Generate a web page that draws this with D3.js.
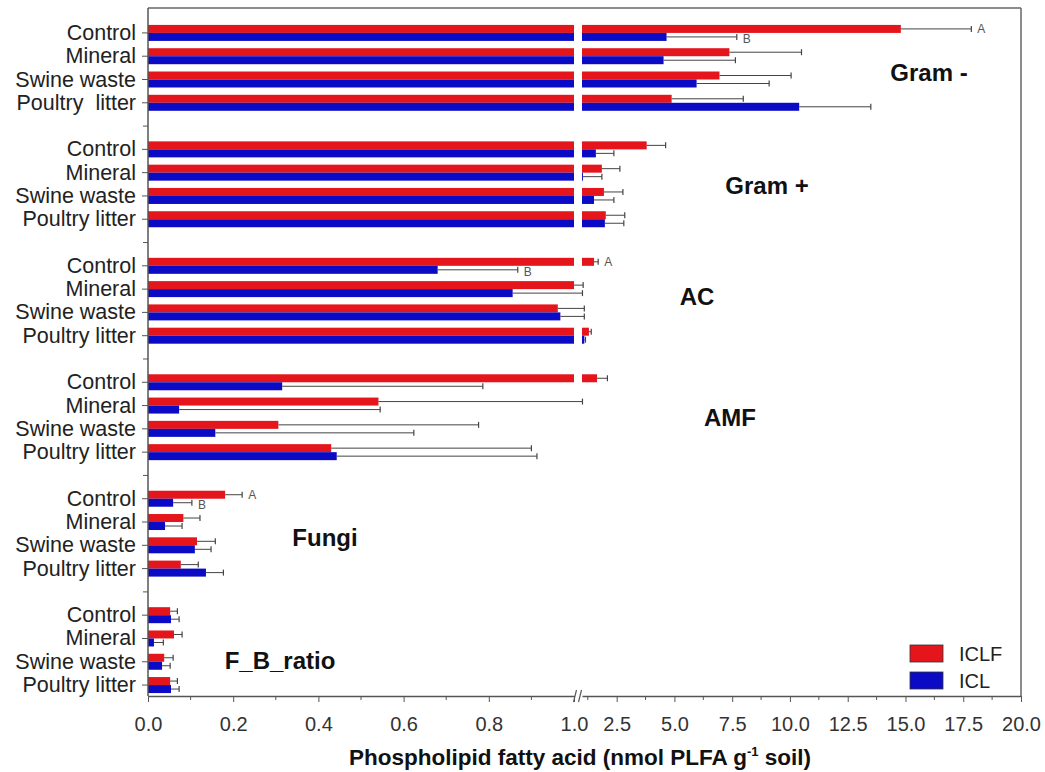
<!DOCTYPE html>
<html>
<head>
<meta charset="utf-8">
<script src="https://cdn.jsdelivr.net/npm/d3@7"></script>
<style>
  body { margin: 0; background: #fff; }
  text { font-family: "Liberation Sans", Arial, sans-serif; }
</style>
</head>
<body>
<svg width="1045" height="772"></svg>
<script>
// data
const groups = ["Gram -", "Gram +", "AC", "AMF", "Fungi", "F_B_ratio"];
const treatments = ["Control", "Mineral", "Swine waste", "Poultry litter"];
const firstGroupLabels = ["Control", "Mineral", "Swine waste", "Poultry  litter"];

const iclf    = [[14.8, 7.38, 6.95, 4.88], [3.8, 1.86, 1.95, 2.03], [1.52, 1.0, 0.962, 1.3],
                 [1.65, 0.541, 0.306, 0.43], [0.181, 0.083, 0.115, 0.077], [0.052, 0.061, 0.038, 0.052]];
const iclfErr = [[17.85, 10.5, 10.05, 7.98], [4.62, 2.64, 2.77, 2.85], [1.7, 1.05, 1.1, 1.4],
                 [2.1, 1.02, 0.776, 0.9], [0.221, 0.122, 0.158, 0.118], [0.069, 0.08, 0.059, 0.069]];
const icl     = [[4.66, 4.53, 5.96, 10.4], [1.6, 1.04, 1.52, 1.99], [0.68, 0.856, 0.968, 1.1],
                 [0.315, 0.073, 0.158, 0.443], [0.059, 0.04, 0.11, 0.136], [0.054, 0.014, 0.033, 0.054]];
const iclErr  = [[7.7, 7.64, 9.1, 13.5], [2.38, 1.86, 2.38, 2.81], [0.868, 1.02, 1.1, 1.15],
                 [0.786, 0.545, 0.624, 0.913], [0.103, 0.08, 0.148, 0.177], [0.073, 0.036, 0.052, 0.073]];

// significance letters: [group, treatment, series, letter]
const letters = [[0, 0, "ICLF", "A"], [0, 0, "ICL", "B"], [2, 0, "ICLF", "A"], [2, 0, "ICL", "B"],
                 [4, 0, "ICLF", "A"], [4, 0, "ICL", "B"]];

const leftTicks = [0, 0.2, 0.4, 0.6, 0.8, 1.0];
const leftMinor = [0.1, 0.3, 0.5, 0.7, 0.9];
const rightTicks = [2.5, 5, 7.5, 10, 12.5, 15, 17.5, 20];
const rightMinor = [1.25, 3.75, 6.25, 8.75, 11.25, 13.75, 16.25, 18.75];

const series = ["ICLF", "ICL"];
const colors = { ICLF: "#e4161c", ICL: "#0b0bc6" };

const svg = d3.select("svg");
const plotTop = 8, plotBottom = 696, plotLeft = 148, plotRight = 1021;

// broken x axis: 0..1 on the left, 1..20 on the right
const xL = d3.scaleLinear().domain([0, 1]).range([plotLeft, 574]);
const xR = d3.scaleLinear().domain([1, 20]).range([582, plotRight]);
const x = v => v <= 1 ? xL(v) : xR(v);

// one slot per treatment, one empty slot between groups
const y = d3.scaleLinear().domain([-1.07, 28.47]).range([plotTop, plotBottom]);
const barH = 8;

const rows = [];
groups.forEach((g, gi) => {
    treatments.forEach((t, ti) => {
        const k = gi * 5 + ti;
        rows.push({ g: gi, t: ti, k: k, label: gi === 0 ? firstGroupLabels[ti] : t,
                    ICLF: iclf[gi][ti], ICLFerr: iclfErr[gi][ti],
                    ICL: icl[gi][ti], ICLerr: iclErr[gi][ti] });
    });
});

// frame
svg.append("line").attr("x1", plotLeft).attr("x2", plotRight).attr("y1", plotTop).attr("y2", plotTop)
    .attr("stroke", "#666").attr("stroke-width", 1.5);
svg.append("line").attr("x1", plotRight).attr("x2", plotRight).attr("y1", plotTop).attr("y2", plotBottom)
    .attr("stroke", "#666").attr("stroke-width", 1.5);

// bars
const bars = svg.append("g");
rows.forEach(r => {
    series.forEach((s, si) => {
        const v = r[s];
        const yTop = si === 0 ? y(r.k) - barH : y(r.k);
        const segs = v <= 1 ? [[0, v, xL]] : [[0, 1, xL], [1, v, xR]];
        segs.forEach(([a, b, sc]) => {
            bars.append("rect")
                .attr("x", sc(a)).attr("y", yTop)
                .attr("width", Math.max(0, sc(b) - sc(a))).attr("height", barH)
                .attr("fill", colors[s]);
        });
        // error bar
        const yc = yTop + barH / 2;
        const e = r[s + "err"];
        bars.append("line").attr("x1", x(v)).attr("x2", x(e)).attr("y1", yc).attr("y2", yc)
            .attr("stroke", "#444").attr("stroke-width", 1);
        bars.append("line").attr("x1", x(e)).attr("x2", x(e)).attr("y1", yc - 3).attr("y2", yc + 3)
            .attr("stroke", "#444").attr("stroke-width", 1.2);
    });
});

// letters
letters.forEach(([gi, ti, s, l]) => {
    const r = rows.find(d => d.g === gi && d.t === ti);
    const yc = s === "ICLF" ? y(r.k) - barH / 2 : y(r.k) + barH / 2 + 2;
    svg.append("text").attr("x", x(r[s + "err"]) + 6).attr("y", yc)
        .attr("dominant-baseline", "central").attr("font-size", 12).attr("fill", "#555").text(l);
});

// y axis
svg.append("line").attr("x1", plotLeft).attr("x2", plotLeft).attr("y1", plotTop).attr("y2", plotBottom)
    .attr("stroke", "#555").attr("stroke-width", 1.5);
svg.selectAll(".ytick").data(rows).enter().append("line")
    .attr("x1", plotLeft - 6).attr("x2", plotLeft).attr("y1", d => y(d.k)).attr("y2", d => y(d.k))
    .attr("stroke", "#555");
svg.selectAll(".ygap").data(d3.range(groups.length - 1)).enter().append("line")
    .attr("x1", plotLeft - 5).attr("x2", plotLeft).attr("y1", d => y(d * 5 + 4)).attr("y2", d => y(d * 5 + 4))
    .attr("stroke", "#555");
svg.selectAll(".ylab").data(rows).enter().append("text")
    .attr("x", plotLeft - 12).attr("y", d => y(d.k))
    .attr("text-anchor", "end").attr("dominant-baseline", "central")
    .attr("font-size", 21.5).attr("fill", "#222").style("white-space", "pre")
    .text(d => d.label);

// x axis, two pieces
const axL = svg.append("g").attr("transform", `translate(0,${plotBottom})`)
    .call(d3.axisBottom(xL).tickValues(leftTicks).tickFormat(d3.format(".1f")).tickSize(6).tickSizeOuter(0));
const axR = svg.append("g").attr("transform", `translate(0,${plotBottom})`)
    .call(d3.axisBottom(xR).tickValues(rightTicks).tickFormat(d3.format(".1f")).tickSize(6).tickSizeOuter(0));
[axL, axR].forEach(a => {
    a.select(".domain").attr("stroke", "#555").attr("stroke-width", 1.5);
    a.selectAll(".tick line").attr("stroke", "#555");
    a.selectAll(".tick text").attr("font-size", 20).attr("fill", "#333")
        .attr("font-family", "'Liberation Sans', Arial, sans-serif").attr("dy", "1.3em");
});
svg.selectAll(".xminL").data(leftMinor).enter().append("line")
    .attr("x1", d => xL(d)).attr("x2", d => xL(d)).attr("y1", plotBottom).attr("y2", plotBottom + 4)
    .attr("stroke", "#555");
svg.selectAll(".xminR").data(rightMinor).enter().append("line")
    .attr("x1", d => xR(d)).attr("x2", d => xR(d)).attr("y1", plotBottom).attr("y2", plotBottom + 4)
    .attr("stroke", "#555");
// break marks
[575, 580].forEach(bx => {
    svg.append("line").attr("x1", bx - 1.5).attr("x2", bx + 1.5)
        .attr("y1", plotBottom + 6).attr("y2", plotBottom - 6).attr("stroke", "#555").attr("stroke-width", 1.2);
});

// axis title
const title = svg.append("text").attr("x", 580).attr("y", 765).attr("text-anchor", "middle")
    .attr("font-size", 22.5).attr("font-weight", "bold").attr("fill", "#111");
title.append("tspan").text("Phospholipid fatty acid (nmol PLFA g");
title.append("tspan").attr("dy", -9).attr("font-size", 13).text("-1");
title.append("tspan").attr("dy", 9).text(" soil)");

// group labels
const groupPos = [[929, 72], [767, 185], [697, 296], [730, 417], [325, 537], [280, 660]];
groups.forEach((g, i) => {
    svg.append("text").attr("x", groupPos[i][0]).attr("y", groupPos[i][1])
        .attr("text-anchor", "middle").attr("dominant-baseline", "central")
        .attr("font-size", 24).attr("font-weight", "bold").attr("fill", "#111").text(g);
});

// legend
const legend = svg.append("g").attr("transform", "translate(910,645)");
series.forEach((s, i) => {
    legend.append("rect").attr("x", 0).attr("y", i * 27).attr("width", 33).attr("height", 17)
        .attr("fill", colors[s]).attr("stroke", "#333").attr("stroke-width", 0.8);
    legend.append("text").attr("x", 49).attr("y", i * 27 + 9).attr("dominant-baseline", "central")
        .attr("font-size", 20).attr("fill", "#222").text(s);
});
</script>
</body>
</html>
